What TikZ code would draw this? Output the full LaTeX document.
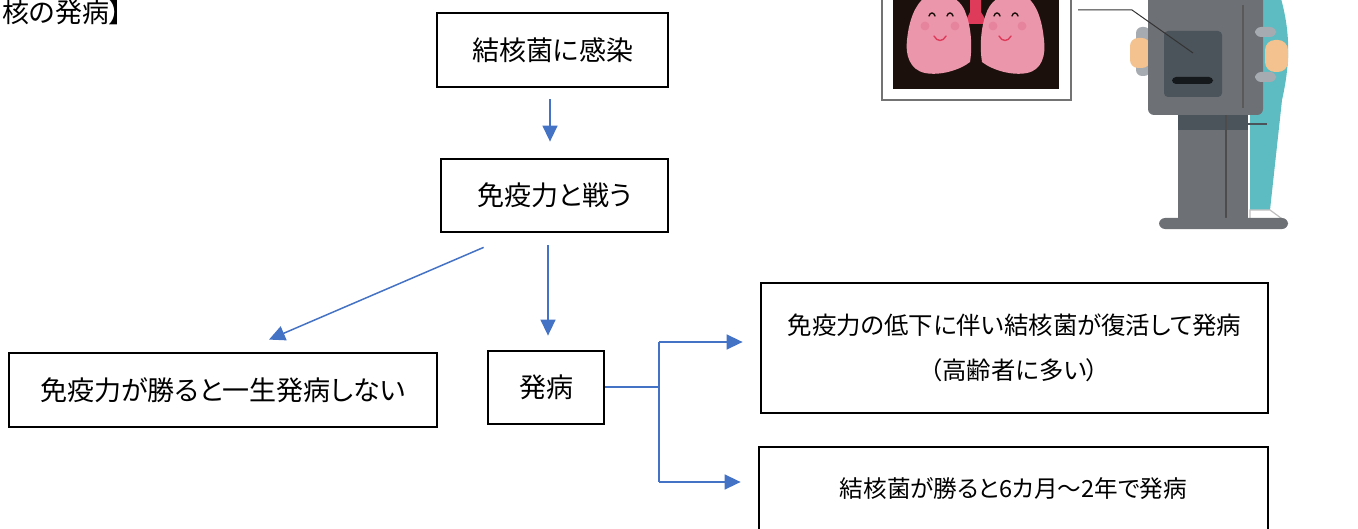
\documentclass[tikz,border=0pt]{standalone}
\usepackage{fontspec}
\setmainfont{Noto Sans CJK JP}[RawFeature=+palt]
\usepackage{tikz}
\usetikzlibrary{arrows.meta, positioning}

\definecolor{oblue}{RGB}{68,114,196}
\definecolor{lungpink}{RGB}{236,150,172}
\definecolor{cheek}{RGB}{226,112,140}
\definecolor{trachea}{RGB}{222,58,90}
\definecolor{film}{RGB}{28,16,12}
\definecolor{panel}{RGB}{109,112,117}
\definecolor{paneldark}{RGB}{75,84,91}
\definecolor{coat}{RGB}{92,188,194}
\definecolor{skin}{RGB}{243,194,142}
\definecolor{handle}{RGB}{166,171,177}

\begin{document}
\begin{tikzpicture}[x=0.5pt, y=-0.5pt, font=\fontsize{13.5pt}{22.5pt}\selectfont,
  box/.style={draw=black, line width=1.4pt, fill=white, inner sep=0pt, align=center},
  link/.style={oblue, line width=0.75pt},
  arrow/.style={link, -{Triangle[length=8pt, width=7.5pt]}}]

  \useasboundingbox (0,0) rectangle (1358,529);
  \clip (0,0) rectangle (1358,529);

  % heading
  \node[anchor=west, inner sep=0pt] (title) at (2,12) {核の発病】};

  % flow boxes
  \node[box, minimum width=115.5pt, minimum height=37pt] (infect) at (552.5,50) {結核菌に感染};
  \node[box, minimum width=113.5pt, minimum height=36.5pt] (fight) at (554.5,195.5) {免疫力と戦う};
  \node[box, minimum width=214pt, minimum height=37pt] (win) at (223,390) {免疫力が勝ると一生発病しない};
  \node[box, minimum width=58pt, minimum height=36.5pt] (onset) at (546,387.5) {発病};
  \node[box, minimum width=253.5pt, minimum height=65pt, font=\fontsize{12.2pt}{22.5pt}\selectfont]
    (relapse) at (1014.5,348) {免疫力の低下に伴い結核菌が復活して発病\\（高齢者に多い）};
  \node[box, minimum width=254.5pt, minimum height=42pt, font=\fontsize{11.8pt}{20pt}\selectfont]
    (early) at (1013.5,489) {結核菌が勝ると6カ月～2年で発病};

  % arrows
  \draw[arrow] ([xshift=-1.25pt, yshift=-5.5pt]infect.south) -- ([xshift=-2.25pt, yshift=8pt]fight.north);
  \draw[arrow] ([xshift=-3.25pt, yshift=-6pt]fight.south) -- ([xshift=1pt, yshift=7pt]onset.north);
  \draw[arrow] ([xshift=22pt, yshift=-7pt]fight.south west) -- ([xshift=23pt, yshift=6pt]win.north);

  % branch out of "発病"
  \coordinate (split) at (659,387);
  \coordinate (sTop) at (659,342);
  \coordinate (sBot) at (659,482);
  \draw[link] (onset.east |- split) -- (split);
  \draw[link] (sTop) -- (sBot);
  \draw[arrow] (sTop) -- ([xshift=-8.5pt]relapse.west |- sTop);
  \draw[arrow] (sBot) -- ([xshift=-8.5pt]early.west |- sBot);

  % X-ray film with the lungs
  \draw[fill=white, draw=black!55, line width=0.8pt] (882,-10) rectangle (1071,100);
  \fill[film] (893,-10) rectangle (1059,89);
  \fill[trachea] (970,-5) -- (981,-5) -- (981,12) -- (988,24) -- (964,24) -- (970,12) -- cycle;
  \fill[lungpink] (966,14) .. controls (972,30) and (972,50) .. (970,62)
    .. controls (960,70) and (940,76) .. (925,73)
    .. controls (910,70) and (905,55) .. (907,40)
    .. controls (909,20) and (915,5) .. (925,-3)
    .. controls (940,-10) and (960,-5) .. (966,14) -- cycle;
  \fill[lungpink] (986,14) .. controls (980,30) and (980,50) .. (982,62)
    .. controls (992,70) and (1012,76) .. (1027,73)
    .. controls (1042,70) and (1046,55) .. (1044,40)
    .. controls (1042,20) and (1037,5) .. (1027,-3)
    .. controls (1012,-10) and (992,-5) .. (986,14) -- cycle;
  \foreach \cx in {925,955,993,1022}
    \fill[cheek, opacity=0.45] (\cx,26) circle (4.5);
  \foreach \ex in {932,950,997,1015}
    \draw[film, line width=0.7pt, line cap=round] (\ex-3,16) .. controls (\ex-2,12) and (\ex+2,12) .. (\ex+3,16);
  \foreach \sx in {940,1005}
    \draw[trachea, line width=0.7pt, line cap=round] (\sx-6,36) .. controls (\sx-3,42) and (\sx+3,42) .. (\sx+6,36);

  % technician behind the chest stand
  \fill[coat] (1255,-5) -- (1280,-5) .. controls (1290,30) and (1291,60) .. (1282,100)
    -- (1270,210) -- (1250,213) -- (1250,115) -- cycle;
  \draw[black!25, line width=0.6pt, fill=white] (1250,210) -- (1270,210) -- (1285,221) -- (1250,221) -- cycle;
  \draw[paneldark, line width=0.8pt] (1248,124) -- (1267,124);
  \fill[panel] (1178,110) rectangle (1248,222);
  \fill[paneldark] (1178,115) rectangle (1248,130);
  \draw[black!70, line width=0.6pt] (1226,115) -- (1226,220);
  \fill[panel, rounded corners=3pt] (1159,218) rectangle (1288,229);
  \fill[handle, rounded corners=3pt] (1136,27) rectangle (1150,76);
  \fill[skin, rounded corners=4pt] (1130,38) rectangle (1150,68);
  \fill[panel, rounded corners=3pt] (1148,-8) rectangle (1263,115);
  \draw[black!65, line width=0.6pt] (1243,5) -- (1243,108);
  \fill[paneldark, rounded corners=2pt] (1164,31) rectangle (1222,97);
  \fill[black!70!paneldark, rounded corners=2pt] (1172,77) rectangle (1213,84);
  \fill[handle, rounded corners=3pt] (1255,27) rectangle (1276,37);
  \fill[handle, rounded corners=3pt] (1255,72) rectangle (1276,82);
  \fill[skin, rounded corners=5pt] (1265,40) rectangle (1288,72);

  % leader from the film to the stand
  \draw[black!80, line width=0.5pt] (1078,10) -- (1132,10) -- (1193,53);

\end{tikzpicture}
\end{document}
